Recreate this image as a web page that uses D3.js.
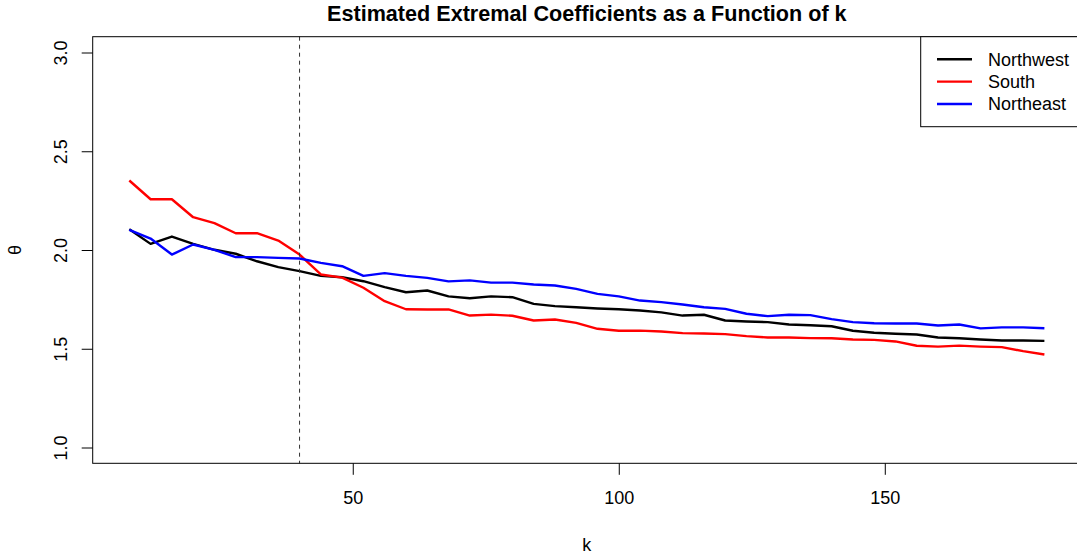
<!DOCTYPE html>
<html>
<head>
<meta charset="utf-8">
<script src="https://cdn.jsdelivr.net/npm/d3@7"></script>
<style>
  body { margin: 0; background: #fff; }
  svg { display: block; font-family: "Liberation Sans", Arial, sans-serif; }
</style>
</head>
<body>
<div id="chart"></div>
<script>
// k values along the x axis
const kValues = [8, 12, 16, 20, 24, 28, 32, 36, 40, 44, 48, 52, 56, 60, 64, 68, 72, 76, 80, 84, 88, 92,
  96, 100, 104, 108, 112, 116, 120, 124, 128, 132, 136, 140, 144, 148, 152, 156, 160, 164, 168, 172, 176, 180];

// estimated extremal coefficients per region
const northwest = [2.105, 2.031, 2.068, 2.031, 2.001, 1.981, 1.943, 1.913, 1.893, 1.869, 1.862, 1.842, 1.812, 1.786,
  1.795, 1.765, 1.756, 1.765, 1.761, 1.727, 1.716, 1.710, 1.704, 1.700, 1.694, 1.684, 1.668, 1.672, 1.643, 1.638,
  1.635, 1.623, 1.619, 1.614, 1.591, 1.581, 1.576, 1.572, 1.557, 1.553, 1.547, 1.542, 1.542, 1.540];
const south = [2.352, 2.257, 2.257, 2.166, 2.136, 2.085, 2.085, 2.048, 1.977, 1.876, 1.860, 1.809, 1.741, 1.700,
  1.699, 1.699, 1.668, 1.673, 1.667, 1.643, 1.648, 1.631, 1.601, 1.591, 1.592, 1.587, 1.579, 1.577, 1.574, 1.564,
  1.557, 1.557, 1.554, 1.553, 1.547, 1.545, 1.537, 1.515, 1.511, 1.516, 1.511, 1.508, 1.488, 1.471];
const northeast = [2.102, 2.058, 1.977, 2.028, 2.001, 1.964, 1.964, 1.960, 1.957, 1.935, 1.918, 1.869, 1.883, 1.869,
  1.859, 1.841, 1.846, 1.835, 1.835, 1.825, 1.820, 1.803, 1.778, 1.765, 1.744, 1.736, 1.724, 1.710, 1.702, 1.677,
  1.665, 1.672, 1.670, 1.650, 1.635, 1.629, 1.628, 1.628, 1.618, 1.623, 1.603, 1.608, 1.608, 1.604];

const seriesNames = ["Northwest", "South", "Northeast"];
const seriesColors = ["#000000", "#ff0000", "#0000ff"];
const xTicks = [50, 100, 150];
const yTicks = [1.0, 1.5, 2.0, 2.5, 3.0];
const cutoffK = 40;

const width = 1077, height = 556;
const plot = { left: 92.7, right: 1081, top: 36.7, bottom: 463.3 };

const svg = d3.select("#chart").append("svg")
  .attr("width", width)
  .attr("height", height);

// R-style limits: data range padded by 4%
const x = d3.scaleLinear().domain([1.12, 186.88]).range([plot.left, plot.right]);
const y = d3.scaleLinear().domain([0.92, 3.08]).range([plot.bottom, plot.top]);

// lines
const line = d3.line().x((d, i) => x(kValues[i])).y(d => y(d));
[northwest, south, northeast].forEach((s, j) => {
  svg.append("path")
    .datum(s)
    .attr("fill", "none")
    .attr("stroke", seriesColors[j])
    .attr("stroke-width", 2.4)
    .attr("stroke-linejoin", "round")
    .attr("d", line);
});

// vertical cutoff line
svg.append("line")
  .attr("x1", x(cutoffK)).attr("x2", x(cutoffK))
  .attr("y1", plot.top).attr("y2", plot.bottom)
  .attr("stroke", "#333")
  .attr("stroke-width", 1)
  .attr("stroke-dasharray", "4,4");

// box
svg.append("rect")
  .attr("x", plot.left).attr("y", plot.top)
  .attr("width", plot.right - plot.left).attr("height", plot.bottom - plot.top)
  .attr("fill", "none").attr("stroke", "#000").attr("stroke-width", 1);

// x axis
const xAxis = svg.append("g")
  .attr("transform", `translate(0,${plot.bottom})`)
  .call(d3.axisBottom(x).tickValues(xTicks).tickSize(11.5).tickPadding(16).tickFormat(d3.format("d")));
xAxis.select(".domain").remove();
xAxis.selectAll("text").attr("font-size", 18).attr("font-family", "Liberation Sans, Arial, sans-serif").attr("fill", "#000");

// y axis (labels rotated, as in R default las=0)
const yAxis = svg.append("g")
  .attr("transform", `translate(${plot.left},0)`)
  .call(d3.axisLeft(y).tickValues(yTicks).tickSize(11).tickFormat(d3.format(".1f")));
yAxis.select(".domain").remove();
yAxis.selectAll(".tick text")
  .attr("font-size", 18)
  .attr("font-family", "Liberation Sans, Arial, sans-serif")
  .attr("fill", "#000")
  .attr("x", null).attr("dy", null)
  .attr("text-anchor", "middle")
  .attr("transform", "translate(-26,0) rotate(-90)");

// title and axis titles
svg.append("text")
  .attr("x", (plot.left + plot.right) / 2).attr("y", 21)
  .attr("text-anchor", "middle")
  .attr("font-size", 21.6).attr("font-weight", "bold")
  .text("Estimated Extremal Coefficients as a Function of k");

svg.append("text")
  .attr("x", (plot.left + plot.right) / 2).attr("y", 551)
  .attr("text-anchor", "middle")
  .attr("font-size", 18)
  .text("k");

svg.append("text")
  .attr("transform", `translate(21,${(plot.top + plot.bottom) / 2}) rotate(-90)`)
  .attr("text-anchor", "middle")
  .attr("font-size", 18)
  .text("θ");

// legend
const legend = svg.append("g");
legend.append("rect")
  .attr("x", 920.7).attr("y", plot.top)
  .attr("width", 180).attr("height", 90)
  .attr("fill", "#fff").attr("stroke", "#000").attr("stroke-width", 1);
seriesNames.forEach((name, i) => {
  const ly = 59.3 + i * 22.35;
  legend.append("line")
    .attr("x1", 937).attr("x2", 972)
    .attr("y1", ly).attr("y2", ly)
    .attr("stroke", seriesColors[i]).attr("stroke-width", 2.4);
  legend.append("text")
    .attr("x", 988).attr("y", ly)
    .attr("dy", "0.35em")
    .attr("font-size", 18)
    .text(name);
});
</script>
</body>
</html>
